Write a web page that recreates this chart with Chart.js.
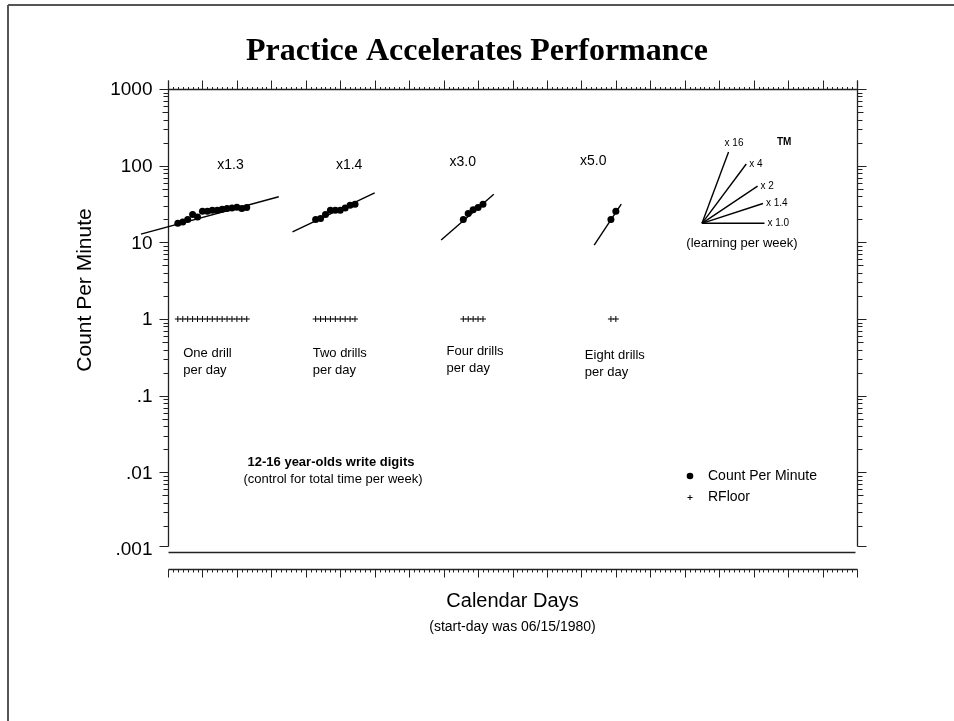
<!DOCTYPE html>
<html>
<head>
<meta charset="utf-8">
<title>Practice Accelerates Performance</title>
<script src="https://cdn.jsdelivr.net/npm/chart.js@4.4.1/dist/chart.umd.min.js"></script>
<style>
  html, body { margin: 0; padding: 0; background: #fff; }
  #wrap { width: 954px; height: 721px; }
</style>
</head>
<body>
<div id="wrap"><canvas id="chart" width="954" height="721"></canvas></div>
<script>
// Datos (días de calendario y conteo por minuto)
const oneDrillDays = [2, 3, 4, 5, 6, 7, 8, 9, 10, 11, 12, 13, 14, 15, 16];
const oneDrillCounts = [17.7, 18.4, 19.8, 23, 21.4, 25.4, 25.4, 26.2, 26.2, 27, 27.6, 28.1, 28.7, 27.6, 28.4];
const twoDrillDays = [30, 31, 32, 33, 34, 35, 36, 37, 38];
const twoDrillCounts = [19.8, 20.4, 23, 26.2, 26.2, 26.2, 28.1, 30.5, 31.4];
const fourDrillDays = [60, 61, 62, 63, 64];
const fourDrillCounts = [19.8, 23.7, 26.7, 28.4, 31.4];
const eightDrillDays = [90, 91];
const eightDrillCounts = [19.8, 25.4];
const recordFloor = 1;

// Líneas de celeración (inicio y fin)
const celerationStartDays = [-5.5, 25.3, 55.5, 86.6];
const celerationStartValues = [12.8, 13.7, 10.7, 9.2];
const celerationEndDays = [22.5, 42, 66.2, 92.1];
const celerationEndValues = [39.3, 44.3, 42.3, 31.6];
const celerationLabels = ['x1.3', 'x1.4', 'x3.0', 'x5.0'];

// Abanico de celeración
const fanOriginDay = 108.5;
const fanOriginValue = 17.7;
const fanCelerations = [16, 4, 2, 1.4, 1.0];
const fanLabels = ['x 16', 'x 4', 'x 2', 'x 1.4', 'x 1.0'];
const fanEndDays = [113.9, 117.5, 119.8, 120.9, 121.2];

// Ejes
const totalDays = 140;
const yTickValues = [0.001, 0.01, 0.1, 1, 10, 100, 1000];
const yTickLabels = ['.001', '.01', '.1', '1', '10', '100', '1000'];

const drillLabels = [['One drill', 'per day'], ['Two drills', 'per day'], ['Four drills', 'per day'], ['Eight drills', 'per day']];

function toPoints(days, values) {
    return days.map((d, i) => ({ x: d, y: values[i] }));
}

const countData = [].concat(
    toPoints(oneDrillDays, oneDrillCounts),
    toPoints(twoDrillDays, twoDrillCounts),
    toPoints(fourDrillDays, fourDrillCounts),
    toPoints(eightDrillDays, eightDrillCounts)
);
const floorData = [].concat(oneDrillDays, twoDrillDays, fourDrillDays, eightDrillDays)
    .map(d => ({ x: d, y: recordFloor }));

const datasets = [
    {
        label: 'Count Per Minute',
        data: countData,
        pointRadius: 3.5,
        pointBackgroundColor: '#000',
        pointBorderWidth: 0
    },
    {
        label: 'RFloor',
        data: floorData,
        pointStyle: 'cross',
        pointRadius: 3,
        pointBorderColor: '#000',
        pointBorderWidth: 1
    }
];

celerationLabels.forEach((lab, i) => {
    datasets.push({
        label: lab,
        data: [
            { x: celerationStartDays[i], y: celerationStartValues[i] },
            { x: celerationEndDays[i], y: celerationEndValues[i] }
        ],
        showLine: true,
        pointRadius: 0,
        borderColor: '#000',
        borderWidth: 1.4,
        clip: false
    });
});

function fanEndValue(i) {
    return fanOriginValue * Math.pow(fanCelerations[i], (fanEndDays[i] - fanOriginDay) / 7);
}

fanCelerations.forEach((cel, i) => {
    datasets.push({
        label: fanLabels[i],
        data: [
            { x: fanOriginDay, y: fanOriginValue },
            { x: fanEndDays[i], y: fanEndValue(i) }
        ],
        showLine: true,
        pointRadius: 0,
        borderColor: '#000',
        borderWidth: 1.4
    });
});

const SANS = '"Liberation Sans", Arial, Helvetica, sans-serif';

function line(c, x1, y1, x2, y2) {
    c.beginPath();
    c.moveTo(x1, y1);
    c.lineTo(x2, y2);
    c.stroke();
}

// Plugin: marco, ejes de la carta estándar y textos
const chartDecor = {
    id: 'chartDecor',
    beforeDraw(chart) {
        const c = chart.ctx;
        c.save();
        c.fillStyle = '#fff';
        c.fillRect(0, 0, chart.width, chart.height);
        c.strokeStyle = '#555';
        c.lineWidth = 2;
        line(c, 8, 5, chart.width, 5);
        line(c, 8, 5, 8, chart.height);
        c.restore();
    },
    beforeDatasetsDraw(chart) {
        const c = chart.ctx;
        const a = chart.chartArea;
        const xs = chart.scales.x;
        const ys = chart.scales.y;
        c.save();
        c.strokeStyle = '#222';
        c.lineWidth = 1.3;

        const L = Math.round(a.left) + 0.5;
        const R = Math.round(a.right) + 0.5;
        const T = Math.round(a.top) + 0.5;
        const B = Math.round(a.bottom) + 0.5;

        // ejes verticales
        line(c, L, T - 9, L, B - 3);
        line(c, R, T - 9, R, B - 3);
        // eje superior
        line(c, L, T, R, T);
        // línea base
        line(c, L, B + 3, R - 2, B + 3);
        // eje inferior de días
        const by = B + 20;
        line(c, L, by, R, by);

        c.lineWidth = 1;
        for (let d = 0; d <= totalDays; d++) {
            const px = Math.round(xs.getPixelForValue(d)) + 0.5;
            const major = d % 7 === 0;
            line(c, px, T, px, T - (major ? 9 : 2.5));
            line(c, px, by, px, by + (major ? 8 : 3));
        }

        // marcas logarítmicas
        for (let e = -3; e <= 3; e++) {
            for (let k = 1; k <= 9; k++) {
                if (e === 3 && k > 1) break;
                const v = k * Math.pow(10, e);
                const py = Math.round(ys.getPixelForValue(v)) + 0.5;
                const len = k === 1 ? 9 : (k === 5 ? 6 : 5);
                const yy = (e === -3 && k === 1) ? py - 3 : py;
                line(c, L - len, yy, L, yy);
                line(c, R, yy, R + len, yy);
            }
        }

        // etiquetas del eje Y
        c.fillStyle = '#000';
        c.font = '19px ' + SANS;
        c.textAlign = 'right';
        c.textBaseline = 'middle';
        yTickValues.forEach((v, i) => {
            c.fillText(yTickLabels[i], L - 16, ys.getPixelForValue(v) + 1);
        });
        c.restore();
    },
    afterDraw(chart) {
        const c = chart.ctx;
        const a = chart.chartArea;
        const xs = chart.scales.x;
        const ys = chart.scales.y;
        const X = d => xs.getPixelForValue(d);
        const Y = v => ys.getPixelForValue(v);
        c.save();
        c.fillStyle = '#000';

        // título
        c.font = 'bold 32px "Liberation Serif", "Times New Roman", serif';
        c.textAlign = 'center';
        c.textBaseline = 'alphabetic';
        c.fillText('Practice Accelerates Performance', 477, 60);

        // título eje Y
        c.save();
        c.translate(85, 290);
        c.rotate(-Math.PI / 2);
        c.font = '21px ' + SANS;
        c.textBaseline = 'middle';
        c.fillText('Count Per Minute', 0, 0);
        c.restore();

        // título eje X
        const cx = (a.left + a.right) / 2;
        c.font = '20px ' + SANS;
        c.textBaseline = 'middle';
        c.fillText('Calendar Days', cx, 601);
        c.font = '14px ' + SANS;
        c.fillText('(start-day was 06/15/1980)', cx, 627);

        // etiquetas de celeración
        const celLabelDays = [12.7, 36.8, 59.9, 86.4];
        const celLabelValues = [103, 103, 112, 116];
        c.font = '14px ' + SANS;
        celerationLabels.forEach((lab, i) => {
            c.fillText(lab, X(celLabelDays[i]), Y(celLabelValues[i]));
        });

        // etiquetas de fases
        const drillDays = [3.1, 29.4, 56.6, 84.7];
        const drillValues = [0.36, 0.36, 0.38, 0.33];
        c.font = '13px ' + SANS;
        c.textAlign = 'left';
        drillLabels.forEach((lines, i) => {
            lines.forEach((t, j) => c.fillText(t, X(drillDays[i]), Y(drillValues[i]) + j * 17));
        });

        // nota
        c.textAlign = 'center';
        c.font = 'bold 13px ' + SANS;
        c.fillText('12-16 year-olds write digits', 331, 462);
        c.font = '13px ' + SANS;
        c.fillText('(control for total time per week)', 333, 479);

        // leyenda
        c.textAlign = 'left';
        c.font = '14px ' + SANS;
        c.beginPath();
        c.arc(690, 476, 3.3, 0, Math.PI * 2);
        c.fill();
        c.fillText('Count Per Minute', 708, 476);
        c.strokeStyle = '#000';
        c.lineWidth = 1;
        line(c, 687.5, 497.5, 692.5, 497.5);
        line(c, 690, 495, 690, 500);
        c.fillText('RFloor', 708, 497);

        // abanico
        c.font = '10px ' + SANS;
        fanLabels.forEach((lab, i) => {
            const ex = X(fanEndDays[i]);
            const ey = Y(fanEndValue(i));
            if (i === 0) {
                c.fillText(lab, ex - 4, ey - 9);
            } else {
                c.fillText(lab, ex + 3, ey);
            }
        });
        c.font = 'bold 10px ' + SANS;
        c.fillText('TM', 777, 142);
        c.font = '13px ' + SANS;
        c.textAlign = 'center';
        c.fillText('(learning per week)', X(fanOriginDay) + 40, Y(fanOriginValue) + 20);
        c.restore();
    }
};

const chart = new Chart(document.getElementById('chart').getContext('2d'), {
    type: 'scatter',
    data: { datasets: datasets },
    options: {
        responsive: false,
        animation: false,
        layout: { padding: { left: 168, right: 97, top: 89, bottom: 172 } },
        scales: {
            x: { type: 'linear', min: 0, max: totalDays, display: false },
            y: { type: 'logarithmic', min: 0.001, max: 1000, display: false }
        },
        plugins: {
            legend: { display: false },
            tooltip: { enabled: false }
        }
    },
    plugins: [chartDecor]
});
</script>
</body>
</html>
